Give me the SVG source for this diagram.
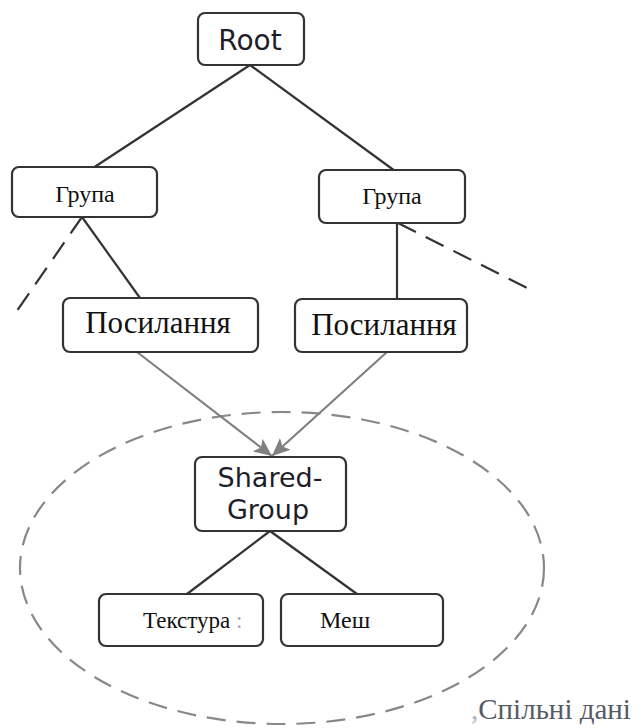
<svg xmlns="http://www.w3.org/2000/svg" width="644" height="728" viewBox="0 0 644 728">
  <style>
    .box { fill: #ffffff; stroke: #333333; stroke-width: 2.2; }
    .sans { font-family: "DejaVu Sans", "Liberation Sans", sans-serif; fill: #1e1e2a; }
    .serif { font-family: "Liberation Serif", "Times New Roman", serif; fill: #111111; }
    .edge { stroke: #333333; stroke-width: 2.2; fill: none; }
    .edge-dash { stroke: #333333; stroke-width: 2.2; fill: none; stroke-dasharray: 20 11; }
    .ref { stroke: #808080; stroke-width: 2.2; fill: none; marker-end: url(#arrow); }
    .region { fill: none; stroke: #888888; stroke-width: 2.2; stroke-dasharray: 19 11; }
  </style>
  <defs>
    <marker id="arrow" markerUnits="userSpaceOnUse" markerWidth="20" markerHeight="18" refX="18" refY="9" orient="auto">
      <path d="M0,1 L18,9 L0,17 L4,9 z" fill="#808080"/>
    </marker>
  </defs>

  <rect width="644" height="728" fill="#ffffff"/>

  <!-- shared data region -->
  <ellipse class="region" cx="282" cy="568" rx="262" ry="156"/>

  <g id="connectors">
    <line class="edge" x1="250" y1="65" x2="93" y2="168"/>
    <line class="edge" x1="250" y1="65" x2="395" y2="171"/>
    <line class="edge" x1="82" y1="217" x2="140" y2="298"/>
    <line class="edge-dash" x1="82" y1="217" x2="12" y2="318"/>
    <line class="edge" x1="397" y1="222" x2="397" y2="299"/>
    <line class="edge-dash" x1="398" y1="223" x2="535" y2="292"/>
    <line class="ref" x1="137" y1="352" x2="272" y2="456"/>
    <line class="ref" x1="387" y1="352" x2="272" y2="456"/>
    <line class="edge" x1="270" y1="531" x2="187" y2="594"/>
    <line class="edge" x1="270" y1="531" x2="357" y2="594"/>
  </g>

  <g id="root">
    <rect class="box" x="198" y="13" width="106" height="52" rx="7"/>
    <text class="sans" x="250" y="50" font-size="28" text-anchor="middle">Root</text>
  </g>

  <g id="group-left">
    <rect class="box" x="12" y="167" width="145" height="50" rx="7"/>
    <text class="serif" x="85" y="202" font-size="24" text-anchor="middle">Група</text>
  </g>

  <g id="group-right">
    <rect class="box" x="319" y="170" width="146" height="53" rx="7"/>
    <text class="serif" x="392" y="204" font-size="24" text-anchor="middle">Група</text>
  </g>

  <g id="link-left">
    <rect class="box" x="63" y="298" width="195" height="54" rx="7"/>
    <text class="serif" x="158" y="333" font-size="31" text-anchor="middle">Посилання</text>
  </g>

  <g id="link-right">
    <rect class="box" x="295" y="299" width="172" height="53" rx="7"/>
    <text class="serif" x="384" y="335" font-size="31" text-anchor="middle">Посилання</text>
  </g>

  <g id="shared-group">
    <rect class="box" x="195" y="457" width="151" height="74" rx="7"/>
    <text class="sans" x="270" y="487" font-size="27" text-anchor="middle">Shared-</text>
    <text class="sans" x="268" y="519" font-size="27" text-anchor="middle">Group</text>
  </g>

  <g id="texture">
    <rect class="box" x="99" y="594" width="164" height="52" rx="7"/>
    <text class="serif" x="143" y="628" font-size="23">Текстура<tspan fill="#9aa6c0"> :</tspan></text>
  </g>

  <g id="mesh">
    <rect class="box" x="281" y="594" width="162" height="52" rx="7"/>
    <text class="serif" x="320" y="628" font-size="24">Меш</text>
  </g>

  <text class="serif" x="471" y="719" font-size="29" style="fill:#555a66"><tspan fill="#b0b4bc">,</tspan>Спільні дані</text>
</svg>
